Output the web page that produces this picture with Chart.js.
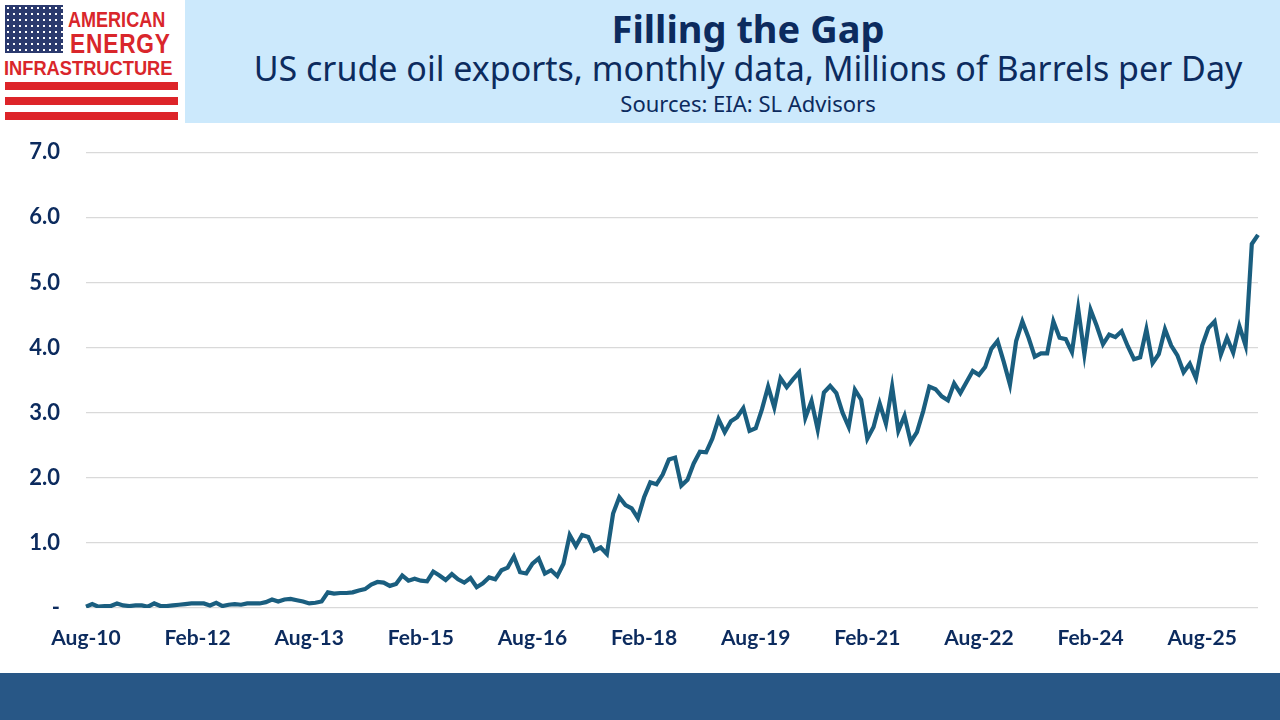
<!DOCTYPE html>
<html>
<head>
<meta charset="utf-8">
<script src="https://cdn.jsdelivr.net/npm/chart.js@4.4.1/dist/chart.umd.min.js"></script>
<style>
body{margin:0;width:1280px;height:720px;overflow:hidden;background:#fff;font-family:"Noto Sans",sans-serif;position:relative}
#head{position:absolute;left:185px;top:0;width:1095px;height:123px;background:#cce9fc}
.t{position:absolute;left:216px;width:1064px;text-align:center;color:#0c2b5e;white-space:nowrap}
#title{top:2px;font-size:38px;font-weight:700}
#sub{top:45px;font-size:34px;font-weight:400}
#src{top:88px;font-size:22px}
#foot{position:absolute;left:0;top:673px;width:1280px;height:47px;background:#285786}
#flag{position:absolute;left:5px;top:5px;width:58px;height:48px;background-color:#2b3a6e;
background-image:radial-gradient(circle,#ffffff 0.9px,transparent 1.3px);background-size:6px 6px}
.lg{position:absolute;color:#d9262b;font-weight:700;font-family:"Liberation Sans",sans-serif;white-space:nowrap;transform-origin:left top}
.st{position:absolute;left:5px;width:173px;height:8px;background:#dd2429}
#wrap{position:absolute;left:0;top:113px;width:1280px;height:560px}
</style>
</head>
<body>
<div id="flag"></div>
<div class="lg" style="left:68px;top:7px;font-size:22px;transform:scaleX(0.82)">AMERICAN</div>
<div class="lg" style="left:70px;top:29px;font-size:27px;letter-spacing:1px;transform:scaleX(0.84)">ENERGY</div>
<div class="lg" style="left:4px;top:56px;font-size:21px;transform:scaleX(0.87)">INFRASTRUCTURE</div>
<div class="st" style="top:82px"></div>
<div class="st" style="top:97px"></div>
<div class="st" style="top:112px"></div>
<div id="head"></div>
<div class="t" id="title">Filling the Gap</div>
<div class="t" id="sub">US crude oil exports, monthly data, Millions of Barrels per Day</div>
<div class="t" id="src">Sources: EIA: SL Advisors</div>
<div id="wrap"><canvas id="oil"></canvas></div>
<div id="foot"></div>
<script>
// monthly, Aug-10 .. May-26
var months=["Jan","Feb","Mar","Apr","May","Jun","Jul","Aug","Sep","Oct","Nov","Dec"];
var startYear=2010,startMonth=7;
var exports=[
0.02,0.06,0.02,0.03,0.03,0.07,0.04,0.03,0.04,0.04,0.02,0.07,
0.03,0.03,0.04,0.05,0.06,0.07,0.07,0.07,0.04,0.08,0.03,0.05,
0.06,0.05,0.07,0.07,0.07,0.09,0.13,0.10,0.13,0.14,0.12,0.10,
0.07,0.08,0.10,0.24,0.22,0.23,0.23,0.24,0.27,0.29,0.36,0.40,
0.39,0.34,0.37,0.50,0.42,0.45,0.42,0.41,0.56,0.50,0.43,0.52,
0.44,0.39,0.46,0.32,0.38,0.47,0.44,0.58,0.62,0.79,0.55,0.53,
0.68,0.76,0.53,0.58,0.49,0.68,1.12,0.95,1.12,1.09,0.88,0.93,
0.83,1.45,1.70,1.58,1.53,1.38,1.70,1.93,1.90,2.05,2.28,2.31,
1.88,1.97,2.22,2.40,2.39,2.60,2.90,2.70,2.87,2.93,3.07,2.72,
2.76,3.05,3.40,3.08,3.53,3.39,3.51,3.62,2.92,3.18,2.74,3.31,
3.41,3.30,3.00,2.78,3.35,3.20,2.60,2.78,3.14,2.83,3.40,2.72,
2.95,2.55,2.70,3.02,3.40,3.36,3.25,3.19,3.45,3.30,3.47,3.64,
3.58,3.70,3.98,4.10,3.78,3.43,4.10,4.40,4.15,3.86,3.91,3.91,
4.40,4.15,4.13,3.93,4.60,3.90,4.58,4.33,4.05,4.20,4.16,4.25,
4.02,3.82,3.85,4.28,3.76,3.90,4.28,4.03,3.88,3.62,3.75,3.53,
4.03,4.30,4.40,3.89,4.15,3.92,4.33,4.03,5.59,5.73];
var labels=[];
for(var i=0;i<exports.length;i++){
  var m=startMonth+i;
  var y=startYear+Math.floor(m/12);
  labels.push(months[m%12]+"-"+String(y).slice(2));
}
var tickEvery=18;
var yTicks=[0,1,2,3,4,5,6,7];

var navy="#0c2b5e";
new Chart("oil",{
  type:"line",
  data:{labels:labels,datasets:[{data:exports,borderColor:"#1a5e7f",borderWidth:4.2,pointRadius:0,tension:0,fill:false}]},
  options:{
    responsive:true,maintainAspectRatio:false,animation:false,
    layout:{padding:{top:5,right:22,left:0,bottom:0}},
    plugins:{legend:{display:false},tooltip:{enabled:false}},
    scales:{
      x:{
        grid:{display:false,drawTicks:false},border:{display:false},
        afterFit:function(s){s.height=65;},
        ticks:{autoSkip:false,maxRotation:0,padding:18,color:navy,font:{family:"Lato",size:21,weight:"bold"},
          callback:function(v,i){return i%tickEvery===0?labels[i]:null;}}
      },
      y:{
        min:0,max:7,
        afterFit:function(s){s.width=86;},
        afterBuildTicks:function(s){s.ticks=yTicks.map(function(v){return {value:v};});},
        grid:{color:"#d9d9d9",lineWidth:1.2,drawTicks:false},border:{display:false},
        ticks:{padding:26,color:navy,font:{family:"Lato",size:22,weight:"bold"},
          callback:function(v){return v===0?"-":v.toFixed(1);}}
      }
    }
  }
});
</script>
</body>
</html>
